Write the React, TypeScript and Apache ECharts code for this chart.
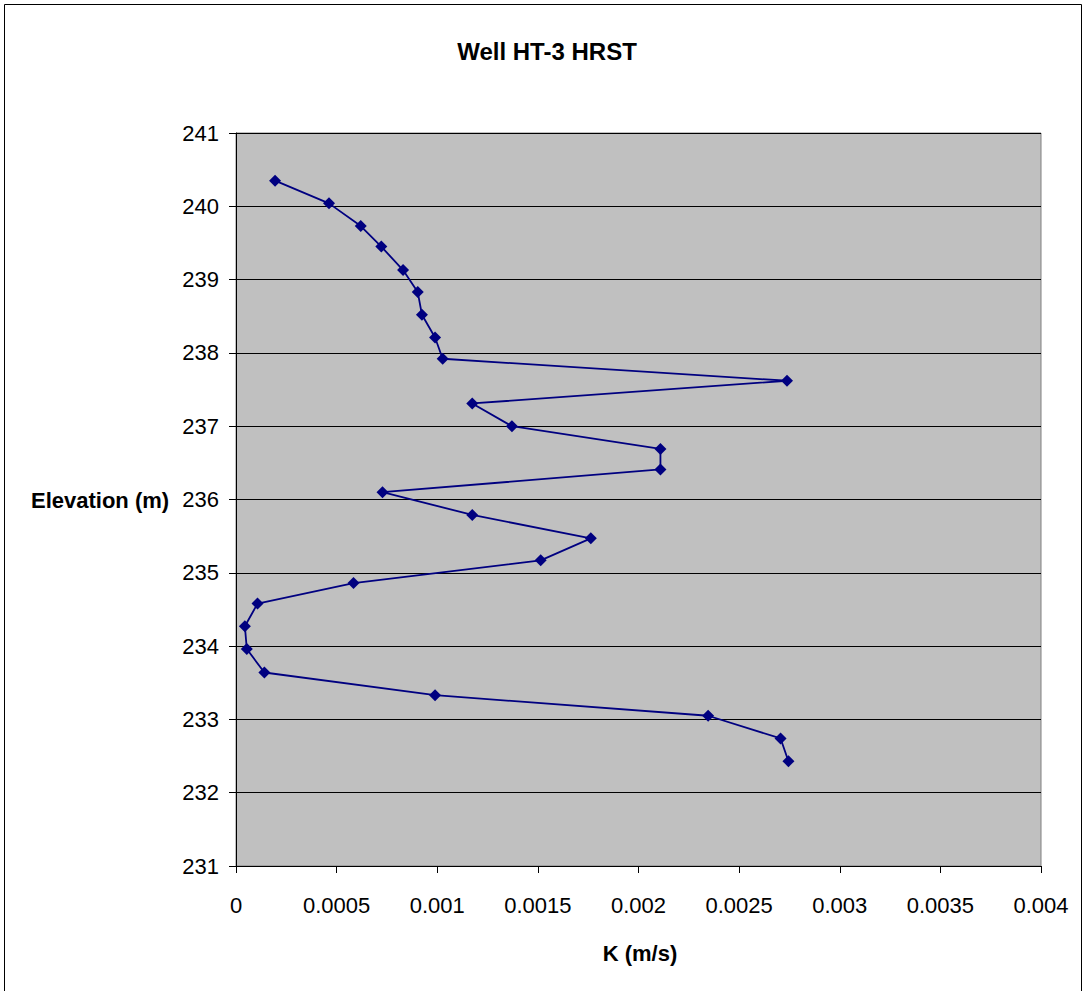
import React, { useEffect, useRef } from "react";
import * as echarts from "echarts";

const titleText = "Well HT-3 HRST";
const xAxisName = "K (m/s)";
const yAxisName = "Elevation (m)";

// Hydraulic conductivity K (m/s)
const kValues = [
  0.000194, 0.000462, 0.00062, 0.000722, 0.00083, 0.000903, 0.000924, 0.000989, 0.001027,
  0.002738, 0.001174, 0.001371, 0.002109, 0.002109, 0.000728, 0.001174, 0.001763, 0.001514,
  0.000584, 0.000107, 0.0000442, 0.0000537, 0.000141, 0.000989, 0.002346, 0.002706, 0.002745,
];
// Elevation (m)
const elevations = [
  240.35, 240.04, 239.73, 239.45, 239.13, 238.83, 238.52, 238.21, 237.92,
  237.62, 237.31, 237.0, 236.69, 236.41, 236.1, 235.79, 235.47, 235.17,
  234.86, 234.58, 234.27, 233.96, 233.64, 233.33, 233.05, 232.74, 232.43,
];

const xMin = 0;
const xMax = 0.004;
const xStep = 0.0005;
const yMin = 231;
const yMax = 241;
const yStep = 1;

const FONT = "'Liberation Sans', Arial, sans-serif";

export default function App() {
  const ref = useRef<HTMLDivElement>(null);

  useEffect(() => {
    if (!ref.current) return;
    const chart = echarts.init(ref.current, null, { renderer: "svg" });
    const data = kValues.map((k, i) => [k, elevations[i]]);
    chart.setOption({
      animation: false,
      backgroundColor: "#ffffff",
      textStyle: { fontFamily: FONT },
      grid: {
        left: 236,
        top: 133,
        right: 42,
        bottom: 125,
        show: true,
        backgroundColor: "#c0c0c0",
        borderColor: "#808080",
        borderWidth: 1,
      },
      xAxis: {
        type: "value",
        min: xMin,
        max: xMax,
        interval: xStep,
        axisLine: { show: true, lineStyle: { color: "#000", width: 1 } },
        axisTick: { show: true, inside: false, length: 7, lineStyle: { color: "#000" } },
        axisLabel: {
          margin: 28,
          fontSize: 22,
          color: "#000",
          fontFamily: FONT,
          formatter: (v: number) => String(+v.toFixed(4)),
        },
        splitLine: { show: false },
      },
      yAxis: {
        type: "value",
        min: yMin,
        max: yMax,
        interval: yStep,
        axisLine: { show: true, lineStyle: { color: "#000", width: 1 } },
        axisTick: { show: true, inside: false, length: 7, lineStyle: { color: "#000" } },
        axisLabel: { margin: 17, fontSize: 22, color: "#000", fontFamily: FONT },
        splitLine: { show: true, lineStyle: { color: "#000", width: 1 } },
      },
      series: [
        {
          type: "line",
          data,
          symbol: "diamond",
          symbolSize: 12,
          showAllSymbol: true,
          lineStyle: { color: "#000080", width: 1.8 },
          itemStyle: { color: "#000080", borderWidth: 0 },
          z: 3,
        },
      ],
      graphic: [
        {
          type: "rect",
          shape: { x: 4.5, y: 4.5, width: 1077, height: 1000 },
          style: { fill: "none", stroke: "#000", lineWidth: 1 },
          silent: true,
        },
        {
          type: "text",
          x: 547,
          y: 51,
          style: {
            text: titleText,
            fontSize: 24,
            fontWeight: "bold",
            fontFamily: FONT,
            fill: "#000",
            align: "center",
            verticalAlign: "middle",
          },
        },
        {
          type: "text",
          x: 31,
          y: 500,
          style: {
            text: yAxisName,
            fontSize: 22,
            fontWeight: "bold",
            fontFamily: FONT,
            fill: "#000",
            align: "left",
            verticalAlign: "middle",
          },
        },
        {
          type: "text",
          x: 640,
          y: 953,
          style: {
            text: xAxisName,
            fontSize: 22,
            fontWeight: "bold",
            fontFamily: FONT,
            fill: "#000",
            align: "center",
            verticalAlign: "middle",
          },
        },
      ],
    });
    return () => chart.dispose();
  }, []);

  return (
    <div
      ref={ref}
      style={{ position: "absolute", left: 0, top: 0, width: 1083, height: 991 }}
    />
  );
}
